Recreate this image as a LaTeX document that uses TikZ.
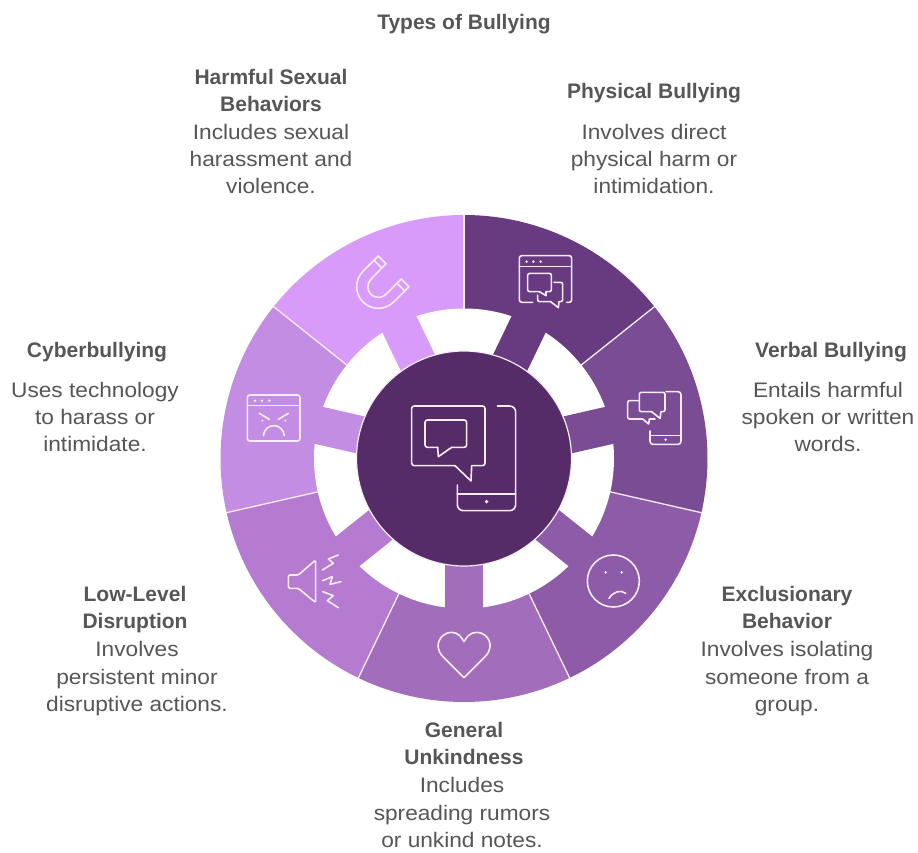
\documentclass[tikz,border=0pt]{standalone}
\usepackage{fontspec}
\setmainfont{Liberation Sans}
\newfontfamily\bodyface[FakeStretch=1.08]{Liberation Sans}
\definecolor{cA}{HTML}{683A80}
\definecolor{cB}{HTML}{7A4C93}
\definecolor{cC}{HTML}{8D5BA8}
\definecolor{cD}{HTML}{A26DBB}
\definecolor{cE}{HTML}{B47BD1}
\definecolor{cF}{HTML}{C28DE2}
\definecolor{cG}{HTML}{D99BFA}
\definecolor{cCore}{HTML}{562C68}
\definecolor{pale}{HTML}{F6ECFA}
\definecolor{txt}{HTML}{565656}
\tikzset{
  headtext/.style={inner sep=0pt,align=center,text=txt,font=\fontsize{21}{27.3}\selectfont\bfseries,execute at begin node=\strut,execute at end node=\strut},
  bodytext/.style={inner sep=0pt,align=center,text=txt,font=\bodyface\fontsize{21}{27.3}\selectfont,execute at begin node=\strut,execute at end node=\strut},
  iconline/.style={draw=pale,line width=1.6pt,line join=round,line cap=round,fill=none},
  icondot/.style={fill=pale,draw=none},
  zoomed/.style={shift={(210,205)},x=0.33333pt,y=-0.33333pt}
}
\begin{document}
\begin{tikzpicture}[x=1pt,y=-1pt]
\useasboundingbox (0,0) rectangle (918,853);
\fill[white] (0,0) rectangle (918,853);
\coordinate (c) at (464,458.5);
% outer sectors
\foreach \col/\st in {cA/90,cB/38.571,cC/-12.857,cD/-64.286,cE/-115.714,cF/-167.143,cG/-218.571}{
  \pgfmathsetmacro{\en}{\st-51.4286}
  \fill[\col] (c) -- ++(\st:243.5pt) arc[start angle=\st,end angle=\en,radius=243.5pt] -- cycle;
}
% separators
\foreach \st in {90,38.571,-12.857,-64.286,-115.714,-167.143,-218.571}{
  \draw[pale,line width=1.3pt] (c) -- ++(\st:244pt);
}
% white ring
\fill[white] (c) circle[radius=150pt];
% spokes
\foreach \col/\md in {cA/64.286,cB/12.857,cC/-38.571,cD/-90,cE/-141.429,cF/-192.857,cG/-244.286}{
  \begin{scope}[shift={(c)},rotate=\md]
    \fill[\col] (0pt,-18.9pt) rectangle (152pt,18.9pt);
  \end{scope}
}
% core
\fill[cCore,draw=pale,line width=1.2pt] (c) circle[radius=107.5pt];
\begin{scope}[zoomed]
  % centre icon
  \draw[iconline,rounded corners=2.5pt] (735,782) -- (605,782) -- (605,603) -- (825,603) -- (825,782) -- (785,782);
  \draw[iconline] (735,782) -- (783,828) -- (785,782);
  \draw[iconline,rounded corners=2.5pt] (683,727) -- (645,727) -- (645,645) -- (770,645) -- (770,727) -- (725,727);
  \draw[iconline] (683,727) -- (685,755) -- (725,727);
  \draw[iconline,rounded corners=6pt] (862,603) -- (917,603) -- (917,917) -- (742,917) -- (742,840);
  \draw[iconline] (742,867) -- (917,867);
  \fill[icondot] (830,890) circle[radius=1.9pt];
  % physical: window and two bubbles
  \draw[iconline,rounded corners=2.5pt] (968,292) -- (928,292) -- (928,152) -- (1085,152) -- (1085,292) -- (1070,292);
  \draw[iconline] (928,185) -- (1085,185);
  \foreach \dx in {950,970,992}{\fill[icondot] (\dx,170) circle[radius=1.4pt];}
  \draw[iconline,rounded corners=2pt] (988,260) -- (953,260) -- (953,205) -- (1024,205) -- (1024,260) -- (1008,260);
  \draw[iconline] (988,260) -- (1008,272) -- (1008,260);
  \draw[iconline,rounded corners=2pt] (1032,232) -- (1058,232) -- (1058,290) -- (1047,290);
  \draw[iconline] (1047,290) -- (1045,308) -- (1022,290);
  \draw[iconline,rounded corners=2pt] (1022,290) -- (983,290) -- (983,270);
  % verbal: phone and two bubbles
  \draw[iconline,rounded corners=3pt] (1368,560) -- (1413,560) -- (1413,718) -- (1320,718) -- (1320,678);
  \draw[iconline] (1320,692) -- (1413,692);
  \fill[icondot] (1367,704) circle[radius=1.4pt];
  \draw[iconline,rounded corners=2pt] (1325,620) -- (1288,620) -- (1288,562) -- (1365,562) -- (1365,620) -- (1353,620);
  \draw[iconline] (1325,620) -- (1350,640) -- (1353,620);
  \draw[iconline,rounded corners=2pt] (1285,587) -- (1253,587) -- (1253,642) -- (1298,642);
  \draw[iconline] (1298,642) -- (1316,657) -- (1318,642) -- (1335,642);
  % exclusionary: sad face
  \draw[iconline] (1210,1128) circle[radius=26pt];
  \fill[icondot] (1187,1102) circle[radius=1.4pt];
  \fill[icondot] (1235,1102) circle[radius=1.4pt];
  \draw[iconline] (1197,1180) .. controls (1210,1160) and (1232,1153) .. (1247,1165);
  % unkindness: heart
  \draw[iconline] (762,1418) -- (698,1354) .. controls (668,1322) and (692,1282) .. (725,1282) .. controls (745,1282) and (755,1298) .. (762,1310) .. controls (769,1298) and (779,1282) .. (800,1282) .. controls (833,1282) and (857,1322) .. (826,1354) -- cycle;
  % low-level: speaker and zigzags
  \draw[iconline,rounded corners=1.5pt] (265,1110) -- (317,1065) -- (317,1193) -- (265,1150) -- (235,1150) -- (235,1110) -- cycle;
  \draw[iconline] (385,1050) -- (355,1062) -- (370,1075) -- (337,1095);
  \draw[iconline] (338,1127) -- (367,1115) -- (360,1138) -- (393,1130);
  \draw[iconline] (338,1160) -- (370,1172) -- (352,1187) -- (385,1208);
  % cyber: window and angry face
  \draw[iconline,rounded corners=2.5pt] (112,570) rectangle (270,708);
  \draw[iconline] (112,601) -- (270,601);
  \foreach \dx in {135,156,178}{\fill[icondot] (\dx,587) circle[radius=1.4pt];}
  \draw[iconline] (148,625) -- (178,643);
  \draw[iconline] (235,625) -- (205,643);
  \fill[icondot] (157,647) circle[radius=1.1pt];
  \fill[icondot] (226,647) circle[radius=1.1pt];
  \draw[iconline] (160,692) .. controls (165,652) and (218,652) .. (223,692);
  % harmful: magnet
  \draw[iconline] (505,153) -- (459,199) arc[start angle=135,end angle=315,radius=21.67pt] -- (597,245) -- (574,222) -- (528,268) arc[start angle=315,end angle=135,radius=10.67pt] -- (528,176) -- cycle;
  \draw[iconline] (492,166) -- (515,189);
  \draw[iconline] (584,258) -- (561,235);
\end{scope}
% texts
\node[headtext] (main) at (464,24) {Types of Bullying};
\node[headtext] (h1) at (654,93) {Physical Bullying};
\node[bodytext] (b1) at (654,163) {Involves direct\\physical harm or\\intimidation.};
\node[headtext] (h2) at (831,352) {Verbal Bullying};
\node[bodytext] (b2) at (828,421) {Entails harmful\\spoken or written\\words.};
\node[headtext] (h3) at (787,611.5) {Exclusionary\\Behavior};
\node[bodytext] (b3) at (787,680.5) {Involves isolating\\someone from a\\group.};
\node[headtext] (h4) at (464,747.5) {General\\Unkindness};
\node[bodytext] (b4) at (462,816.5) {Includes\\spreading rumors\\or unkind notes.};
\node[headtext] (h5) at (135,611.5) {Low-Level\\Disruption};
\node[bodytext] (b5) at (137,680.5) {Involves\\persistent minor\\disruptive actions.};
\node[headtext] (h6) at (97,352) {Cyberbullying};
\node[bodytext] (b6) at (95,421) {Uses technology\\to harass or\\intimidate.};
\node[headtext] (h7) at (271,94.5) {Harmful Sexual\\Behaviors};
\node[bodytext] (b7) at (271,163) {Includes sexual\\harassment and\\violence.};
\end{tikzpicture}
\end{document}
